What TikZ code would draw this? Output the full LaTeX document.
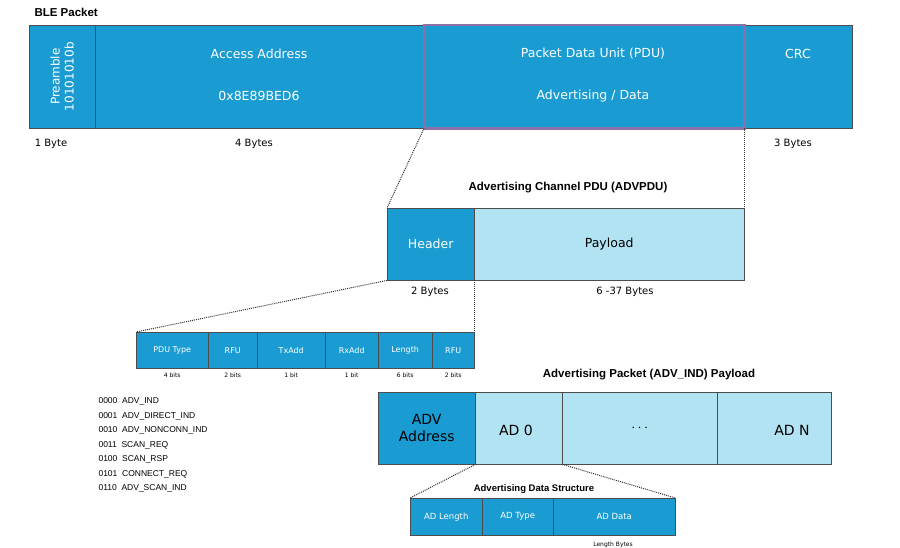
\documentclass[tikz,border=0pt]{standalone}
\usepackage{fontspec}
\setmainfont{DejaVu Sans}
\newfontfamily\arialfont{Liberation Sans}
\usetikzlibrary{positioning, calc}
\definecolor{bledark}{HTML}{1A9CD2}
\definecolor{blelight}{HTML}{B2E3F3}
\definecolor{pdupurple}{HTML}{8E70A8}
\tikzset{
    field/.style={draw=black!70, fill=bledark, text=white, inner sep=0pt},
    lightfield/.style={draw=black!70, fill=blelight, text=black, inner sep=0pt},
    zoomline/.style={densely dotted, line width=1pt, black!80},
    sizelabel/.style={font=\fontsize{10}{12}\selectfont},
    bitlabel/.style={font=\fontsize{6}{7}\selectfont},
    titlelabel/.style={font=\arialfont\bfseries\fontsize{11.5}{13}\selectfont}
}
\newcommand{\fieldbox}[6]{% name, style, x1, y1, x2, y2
    \node[#2, minimum width=#5pt-#3pt, minimum height=#6pt-#4pt, anchor=north west] (#1) at (#3,#4) {};}
\begin{document}
\begin{tikzpicture}[x=1pt, y=-1pt]
    \useasboundingbox (0,0) rectangle (900,548);

    % BLE packet
    \node[titlelabel, anchor=west] (bletitle) at (31,12) {BLE Packet};
    \fieldbox{pre}{field}{29}{25}{95}{128}
    \fieldbox{aa}{field}{95}{25}{424}{128}
    \fieldbox{pdu}{field}{424}{25}{744}{128}
    \fieldbox{crc}{field}{744}{25}{852}{128}
    \draw[pdupurple, line width=2.5pt] (pdu.north west) rectangle (pdu.south east);
    \node[rotate=90, text=white, align=center, font=\fontsize{12}{14}\selectfont] at (pre) {Preamble\\10101010b};
    \node[text=white, font=\fontsize{12.5}{15}\selectfont] at (259,54) {Access Address};
    \node[text=white, font=\fontsize{12.5}{15}\selectfont] at (259,96) {0x8E89BED6};
    \node[text=white, font=\fontsize{12.5}{15}\selectfont] at (593,54) {Packet Data Unit (PDU)};
    \node[text=white, font=\fontsize{12.5}{15}\selectfont] at (593,96) {Advertising / Data};
    \node[text=white, font=\fontsize{12.5}{15}\selectfont] at (798,54) {CRC};
    \node[sizelabel] at (51,144) {1 Byte};
    \node[sizelabel] at (254,144) {4 Bytes};
    \node[sizelabel] at (793,144) {3 Bytes};

    % Advertising channel PDU
    \node[titlelabel] (advtitle) at (568,188) {Advertising Channel PDU (ADVPDU)};
    \fieldbox{hdr}{field}{387}{208}{474}{280}
    \fieldbox{pay}{lightfield}{474}{208}{744}{280}
    \node[text=white, font=\fontsize{12.5}{15}\selectfont] at (hdr) {Header};
    \node[font=\fontsize{12.5}{15}\selectfont] at (pay) {Payload};
    \node[sizelabel] at (430,292) {2 Bytes};
    \node[sizelabel] at (625,292) {6 -37 Bytes};
    \draw[zoomline] (pdu.south west) -- (hdr.north west);
    \draw[zoomline] (pdu.south east) -- (pay.north east);

    % Header fields
    \foreach \name/\xa/\xb/\txt/\bits in {ft/136/208/PDU Type/4 bits, fr1/208/257/RFU/2 bits,
        ftx/257/325/TxAdd/1 bit, frx/325/378/RxAdd/1 bit, fl/378/432/Length/6 bits, fr2/432/474/RFU/2 bits}{
        \fieldbox{\name}{field}{\xa}{332}{\xb}{368}
        \node[text=white, font=\fontsize{8}{9}\selectfont] at (\name) {\txt};
        \node[bitlabel] at ($(\name.south)+(0,7)$) {\bits};
    }
    \draw[zoomline] (hdr.south west) -- (ft.north west);
    \draw[zoomline] (hdr.south east) -- (fr2.north east);

    % PDU types
    \foreach \code/\typ [count=\i] in {0000/ADV\_IND, 0001/ADV\_DIRECT\_IND, 0010/ADV\_NONCONN\_IND,
        0011/SCAN\_REQ, 0100/SCAN\_RSP, 0101/CONNECT\_REQ, 0110/ADV\_SCAN\_IND}{
        \node[anchor=west, font=\arialfont\fontsize{8.5}{10}\selectfont] at (95,387+14.5*\i) {\code\ \ \typ};
    }

    % ADV_IND payload
    \node[titlelabel] (indtitle) at (649,375) {Advertising Packet (ADV\_IND) Payload};
    \fieldbox{adva}{field}{378}{392}{475}{464}
    \fieldbox{ad0}{lightfield}{475}{392}{562}{464}
    \fieldbox{addots}{lightfield}{562}{392}{717}{464}
    \fieldbox{adn}{lightfield}{717}{392}{831}{464}
    \node[align=center, font=\fontsize{14}{17}\selectfont] at (adva) {ADV\\Address};
    \node[font=\fontsize{14}{17}\selectfont] at (516,430) {AD 0};
    \node[font=\bfseries\fontsize{14}{17}\selectfont] at (addots) {$\cdots$};
    \node[font=\fontsize{14}{17}\selectfont] at (792,430) {AD N};

    % Advertising data structure
    \node[titlelabel, font=\arialfont\bfseries\fontsize{9.5}{11}\selectfont] (adstitle) at (534,489) {Advertising Data Structure};
    \fieldbox{adl}{field}{410}{498}{482}{535}
    \fieldbox{adt}{field}{482}{498}{553}{535}
    \fieldbox{add}{field}{553}{498}{675}{535}
    \node[text=white, font=\fontsize{8.5}{10}\selectfont] at (adl) {AD Length};
    \node[text=white, font=\fontsize{8.5}{10}\selectfont] at (adt) {AD Type};
    \node[text=white, font=\fontsize{8.5}{10}\selectfont] at (add) {AD Data};
    \node[bitlabel] at (613,545) {Length Bytes};
    \draw[zoomline] (adva.south east) -- (adl.north west);
    \draw[zoomline] (ad0.south east) -- (add.north east);
\end{tikzpicture}
\end{document}
